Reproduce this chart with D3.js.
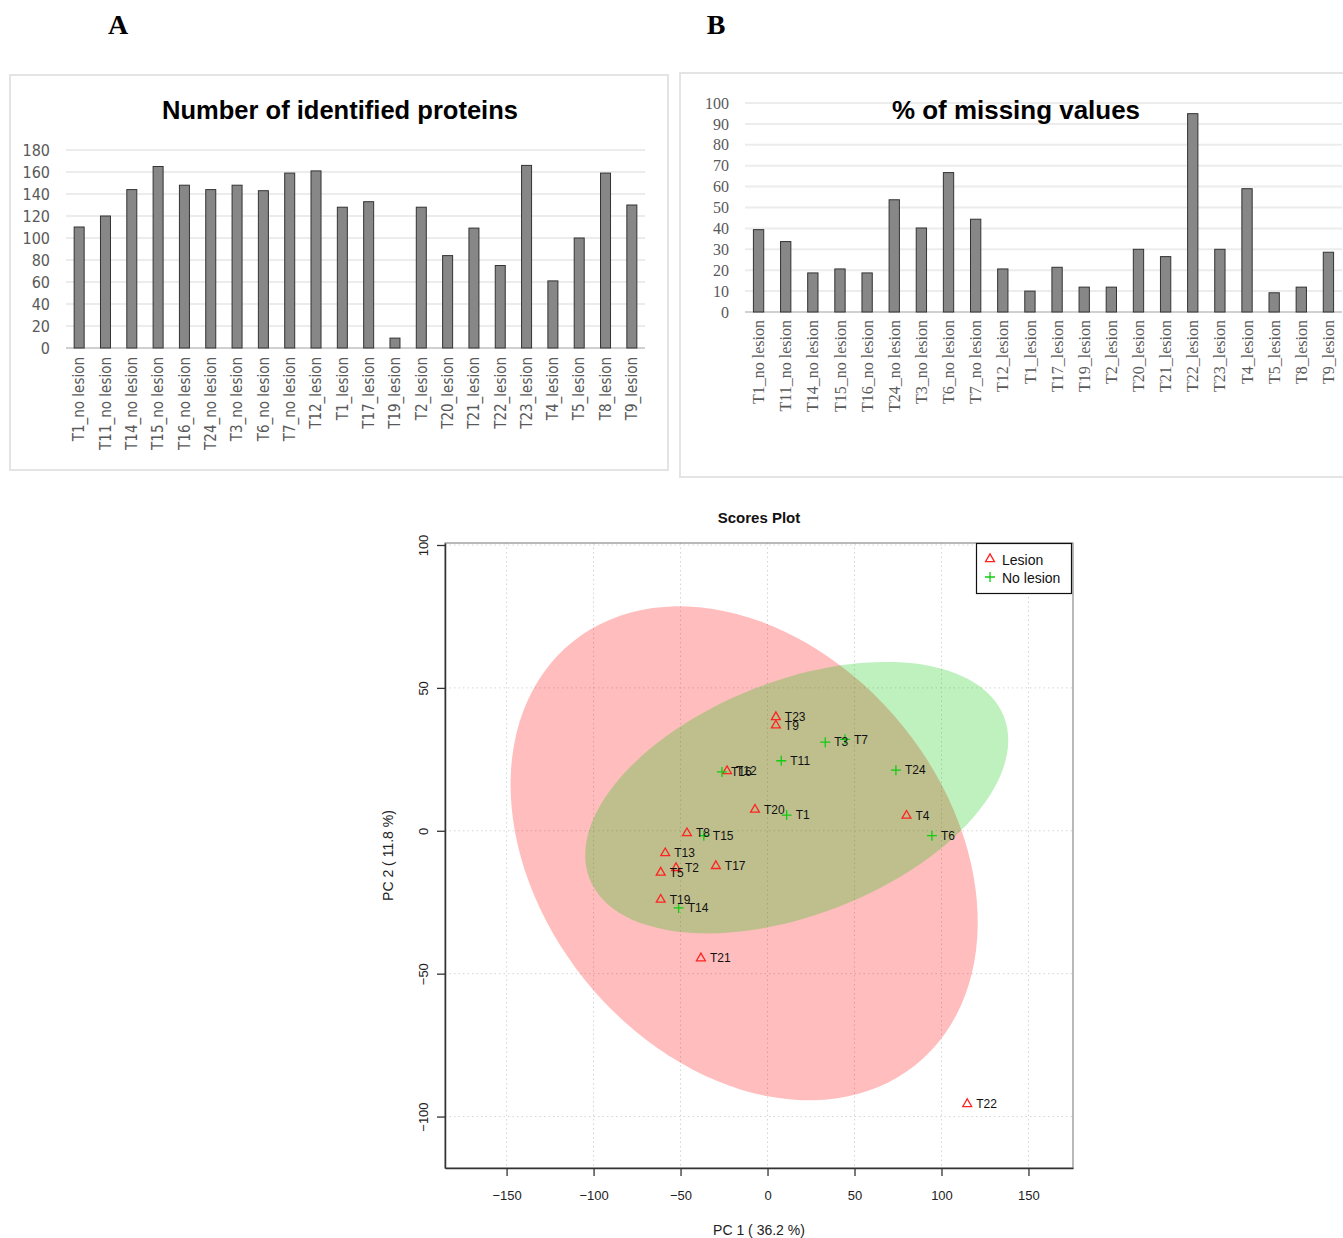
<!DOCTYPE html>
<html>
<head>
<meta charset="utf-8">
<script src="https://cdn.jsdelivr.net/npm/d3@7/dist/d3.min.js"></script>
<style>
  body { margin: 0; background: #fff; }
  svg { display: block; }
</style>
</head>
<body>
<svg id="canvas" width="1343" height="1238"></svg>
<script>
// samples, same order in both bar charts
const sampleNames = [
  "T1_no lesion", "T11_no lesion", "T14_no lesion", "T15_no lesion", "T16_no lesion",
  "T24_no lesion", "T3_no lesion", "T6_no lesion", "T7_no lesion", "T12_lesion",
  "T1_lesion", "T17_lesion", "T19_lesion", "T2_lesion", "T20_lesion", "T21_lesion",
  "T22_lesion", "T23_lesion", "T4_lesion", "T5_lesion", "T8_lesion", "T9_lesion"
];
const identifiedProteins = [110, 120, 144, 165, 148, 144, 148, 143, 159, 161, 128, 133, 9, 128, 84, 109, 75, 166, 61, 100, 159, 130];
const missingValues = [39.4, 33.7, 18.7, 20.6, 18.7, 53.7, 40.2, 66.7, 44.4, 20.6, 10, 21.4, 11.9, 11.9, 30, 26.5, 94.9, 30, 59, 9.2, 11.9, 28.6];
const proteinTicks = [0, 20, 40, 60, 80, 100, 120, 140, 160, 180];
const missingTicks = [0, 10, 20, 30, 40, 50, 60, 70, 80, 90, 100];

// PCA scores
const lesionNames = ["T23", "T9", "T12", "T20", "T4", "T8", "T13", "T2", "T5", "T17", "T19", "T21", "T22"];
const lesionPC1 = [4.8, 4.8, -23.3, -7.2, 79.9, -46.3, -58.8, -52.6, -61.4, -29.7, -61.4, -38.3, 114.8];
const lesionPC2 = [39.8, 36.9, 20.9, 7.4, 5.3, -0.8, -7.8, -13.0, -14.6, -12.3, -24.1, -44.6, -95.6];
const noLesionNames = ["T3", "T7", "T11", "T16", "T24", "T1", "T6", "T15", "T14"];
const noLesionPC1 = [33.2, 44.5, 7.9, -26.2, 73.8, 11.0, 94.5, -36.6, -51.1];
const noLesionPC2 = [31.0, 32.0, 24.5, 20.6, 21.2, 5.5, -1.7, -1.7, -27.0];
const pcTicksX = [-150, -100, -50, 0, 50, 100, 150];
const pcTicksY = [-100, -50, 0, 50, 100];

const svg = d3.select("#canvas");

function drawBarChart({ box, title, titleX, titleLen, values, ticks, yDomain, yRange, xRange, tickRight, labelTop, font, fontSize, labelSize }) {
  const g = svg.append("g");

  g.append("rect")
    .attr("x", box.x).attr("y", box.y)
    .attr("width", box.w).attr("height", box.h)
    .attr("fill", "#fff")
    .attr("stroke", "#e4e4e4")
    .attr("stroke-width", 2);

  const x = d3.scaleBand().domain(sampleNames).range(xRange).paddingInner(0.62).paddingOuter(0.31);
  const y = d3.scaleLinear().domain(yDomain).range(yRange);

  g.selectAll("line.grid")
    .data(ticks)
    .enter()
    .append("line")
    .attr("class", "grid")
    .attr("x1", xRange[0]).attr("x2", xRange[1])
    .attr("y1", d => y(d)).attr("y2", d => y(d))
    .attr("stroke", d => (d === 0 ? "#d0d0d0" : "#ececec"))
    .attr("stroke-width", 2);

  const yAxis = g.append("g")
    .attr("transform", `translate(${tickRight},0)`)
    .call(d3.axisLeft(y).tickValues(ticks).tickSize(0).tickPadding(0));
  yAxis.select(".domain").remove();
  yAxis.selectAll("text")
    .attr("fill", "#595959")
    .style("font-family", font)
    .style("font-size", fontSize + "px");

  g.selectAll("rect.bar")
    .data(values)
    .enter()
    .append("rect")
    .attr("class", "bar")
    .attr("x", (d, i) => x(sampleNames[i]))
    .attr("y", d => y(d))
    .attr("width", x.bandwidth())
    .attr("height", d => y(0) - y(d))
    .attr("fill", "#878787")
    .attr("stroke", "#333")
    .attr("stroke-width", 1);

  g.selectAll("text.cat")
    .data(sampleNames)
    .enter()
    .append("text")
    .attr("class", "cat")
    .attr("transform", d => `translate(${x(d) + x.bandwidth() / 2},${labelTop}) rotate(-90)`)
    .attr("text-anchor", "end")
    .attr("dy", "0.35em")
    .attr("fill", "#595959")
    .style("font-family", font)
    .style("font-size", labelSize + "px")
    .text(d => d);

  g.append("text")
    .attr("x", titleX).attr("y", 119)
    .attr("text-anchor", "middle")
    .attr("textLength", titleLen)
    .attr("lengthAdjust", "spacingAndGlyphs")
    .style("font-family", "Liberation Sans, Arial, sans-serif")
    .style("font-weight", "bold")
    .style("font-size", "26px")
    .text(title);
}

// confidence ellipse (level 0.95), same construction as R ellipse()
function ellipsePoints(xs, ys) {
  const n = xs.length;
  const mx = d3.mean(xs), my = d3.mean(ys);
  const sx = d3.deviation(xs), sy = d3.deviation(ys);
  let cov = 0;
  for (let i = 0; i < n; i++) cov += (xs[i] - mx) * (ys[i] - my);
  cov /= n - 1;
  const r = cov / (sx * sy);
  const d = Math.acos(r);
  const t = Math.sqrt(5.991465);
  return d3.range(0, 120).map(i => {
    const a = (i / 120) * Math.PI * 2;
    return [mx + t * sx * Math.cos(a + d / 2), my + t * sy * Math.cos(a - d / 2)];
  });
}

function drawScoresPlot() {
  const left = 445, right = 1073, top = 543, bottom = 1168;
  const x = d3.scaleLinear().domain([-185.4, 175.6]).range([left, right]);
  const y = d3.scaleLinear().domain([-118, 100.7]).range([bottom, top]);
  const g = svg.append("g");
  const font = "Liberation Sans, Arial, sans-serif";

  g.append("text")
    .attr("x", (left + right) / 2).attr("y", 523)
    .attr("text-anchor", "middle")
    .style("font-family", font)
    .style("font-weight", "bold")
    .style("font-size", "15px")
    .attr("fill", "#111")
    .text("Scores Plot");

  // grid
  g.selectAll("line.gx")
    .data(pcTicksX)
    .enter()
    .append("line")
    .attr("x1", d => x(d)).attr("x2", d => x(d))
    .attr("y1", top).attr("y2", bottom)
    .attr("stroke", "#d4d4d4")
    .attr("stroke-dasharray", "1.5,3");
  g.selectAll("line.gy")
    .data(pcTicksY)
    .enter()
    .append("line")
    .attr("x1", left).attr("x2", right)
    .attr("y1", d => y(d)).attr("y2", d => y(d))
    .attr("stroke", "#d4d4d4")
    .attr("stroke-dasharray", "1.5,3");

  const line = d3.line().x(p => x(p[0])).y(p => y(p[1])).curve(d3.curveLinearClosed);
  g.append("path")
    .attr("d", line(ellipsePoints(lesionPC1, lesionPC2)))
    .attr("fill", "rgb(255,0,0)")
    .attr("fill-opacity", 0.26);
  g.append("path")
    .attr("d", line(ellipsePoints(noLesionPC1, noLesionPC2)))
    .attr("fill", "rgb(0,200,0)")
    .attr("fill-opacity", 0.25);

  const triangle = d3.symbol().type(d3.symbolTriangle).size(34);

  g.selectAll("path.lesion")
    .data(lesionNames)
    .enter()
    .append("path")
    .attr("d", triangle)
    .attr("transform", (d, i) => `translate(${x(lesionPC1[i])},${y(lesionPC2[i])})`)
    .attr("fill", "none")
    .attr("stroke", "#f22")
    .attr("stroke-width", 1.3);

  g.selectAll("path.nolesion")
    .data(noLesionNames)
    .enter()
    .append("path")
    .attr("d", "M-5,0H5M0,-5V5")
    .attr("transform", (d, i) => `translate(${x(noLesionPC1[i])},${y(noLesionPC2[i])})`)
    .attr("stroke", "#1c1")
    .attr("stroke-width", 1.3);

  const labels = lesionNames.map((d, i) => ({ name: d, px: lesionPC1[i], py: lesionPC2[i] }))
    .concat(noLesionNames.map((d, i) => ({ name: d, px: noLesionPC1[i], py: noLesionPC2[i] })));
  g.selectAll("text.lab")
    .data(labels)
    .enter()
    .append("text")
    .attr("x", d => x(d.px) + 9)
    .attr("y", d => y(d.py))
    .attr("dy", "0.35em")
    .style("font-family", font)
    .style("font-size", "12px")
    .attr("fill", "#111")
    .text(d => d.name);

  // frame and axes
  g.append("rect")
    .attr("x", left).attr("y", top)
    .attr("width", right - left).attr("height", bottom - top)
    .attr("fill", "none")
    .attr("stroke", "#8a8a8a")
    .attr("stroke-width", 1.2);

  const xAxis = g.append("g")
    .attr("transform", `translate(0,${bottom})`)
    .call(d3.axisBottom(x).tickValues(pcTicksX).tickSize(8).tickPadding(15).tickSizeOuter(0));
  xAxis.select(".domain").attr("stroke", "#333").attr("stroke-width", 1.5);
  xAxis.selectAll("line").attr("stroke", "#333").attr("stroke-width", 1.3);
  xAxis.selectAll("text")
    .attr("fill", "#222")
    .style("font-family", font)
    .style("font-size", "13px");

  const yAxis = g.append("g")
    .attr("transform", `translate(${left},0)`)
    .call(d3.axisLeft(y).tickValues(pcTicksY).tickSize(8).tickSizeOuter(0));
  yAxis.select(".domain").attr("stroke", "#333").attr("stroke-width", 1.5);
  yAxis.selectAll("line").attr("stroke", "#333").attr("stroke-width", 1.3);
  yAxis.selectAll("text")
    .attr("x", null).attr("dy", null)
    .attr("transform", "translate(-17,0) rotate(-90)")
    .attr("text-anchor", "middle")
    .attr("fill", "#222")
    .style("font-family", font)
    .style("font-size", "13px");

  g.append("text")
    .attr("x", (left + right) / 2).attr("y", 1235)
    .attr("text-anchor", "middle")
    .style("font-family", font)
    .style("font-size", "14px")
    .attr("fill", "#222")
    .text("PC 1 ( 36.2 %)");
  g.append("text")
    .attr("transform", `translate(393,${(top + bottom) / 2}) rotate(-90)`)
    .attr("text-anchor", "middle")
    .style("font-family", font)
    .style("font-size", "14px")
    .attr("fill", "#222")
    .text("PC 2 ( 11.8 %)");

  // legend
  const lg = g.append("g");
  lg.append("rect")
    .attr("x", 976.5).attr("y", 543.5)
    .attr("width", 95).attr("height", 50)
    .attr("fill", "#fff")
    .attr("stroke", "#111")
    .attr("stroke-width", 1.2);
  lg.append("path")
    .attr("d", triangle)
    .attr("transform", "translate(990,559)")
    .attr("fill", "none")
    .attr("stroke", "#f22")
    .attr("stroke-width", 1.3);
  lg.append("path")
    .attr("d", "M-5,0H5M0,-5V5")
    .attr("transform", "translate(990,577)")
    .attr("stroke", "#1c1")
    .attr("stroke-width", 1.3);
  lg.selectAll("text")
    .data(["Lesion", "No lesion"])
    .enter()
    .append("text")
    .attr("x", 1002)
    .attr("y", (d, i) => 560 + i * 18)
    .attr("dy", "0.35em")
    .style("font-family", font)
    .style("font-size", "14px")
    .attr("fill", "#111")
    .text(d => d);
}

function main() {
  svg.append("rect").attr("width", 1343).attr("height", 1238).attr("fill", "#fff");

  svg.selectAll("text.panel")
    .data([{ t: "A", x: 118 }, { t: "B", x: 716 }])
    .enter()
    .append("text")
    .attr("x", d => d.x).attr("y", 34)
    .attr("text-anchor", "middle")
    .style("font-family", "Liberation Serif, Times New Roman, serif")
    .style("font-weight", "bold")
    .style("font-size", "28px")
    .text(d => d.t);

  drawBarChart({
    box: { x: 10, y: 75, w: 658, h: 395 },
    title: "Number of identified proteins",
    titleX: 340,
    titleLen: 356,
    values: identifiedProteins,
    ticks: proteinTicks,
    yDomain: [0, 180],
    yRange: [348, 150],
    xRange: [66, 645],
    tickRight: 50,
    labelTop: 357,
    font: "Liberation Sans Narrow, DejaVu Sans Condensed, Liberation Sans, sans-serif",
    fontSize: 16,
    labelSize: 15
  });

  drawBarChart({
    box: { x: 680, y: 73, w: 680, h: 404 },
    title: "% of missing values",
    titleX: 1016,
    titleLen: 248,
    values: missingValues,
    ticks: missingTicks,
    yDomain: [0, 100],
    yRange: [312, 103],
    xRange: [745, 1342],
    tickRight: 729,
    labelTop: 320,
    font: "Liberation Serif, Times New Roman, serif",
    fontSize: 16,
    labelSize: 16
  });

  drawScoresPlot();
}

main();
</script>
</body>
</html>
